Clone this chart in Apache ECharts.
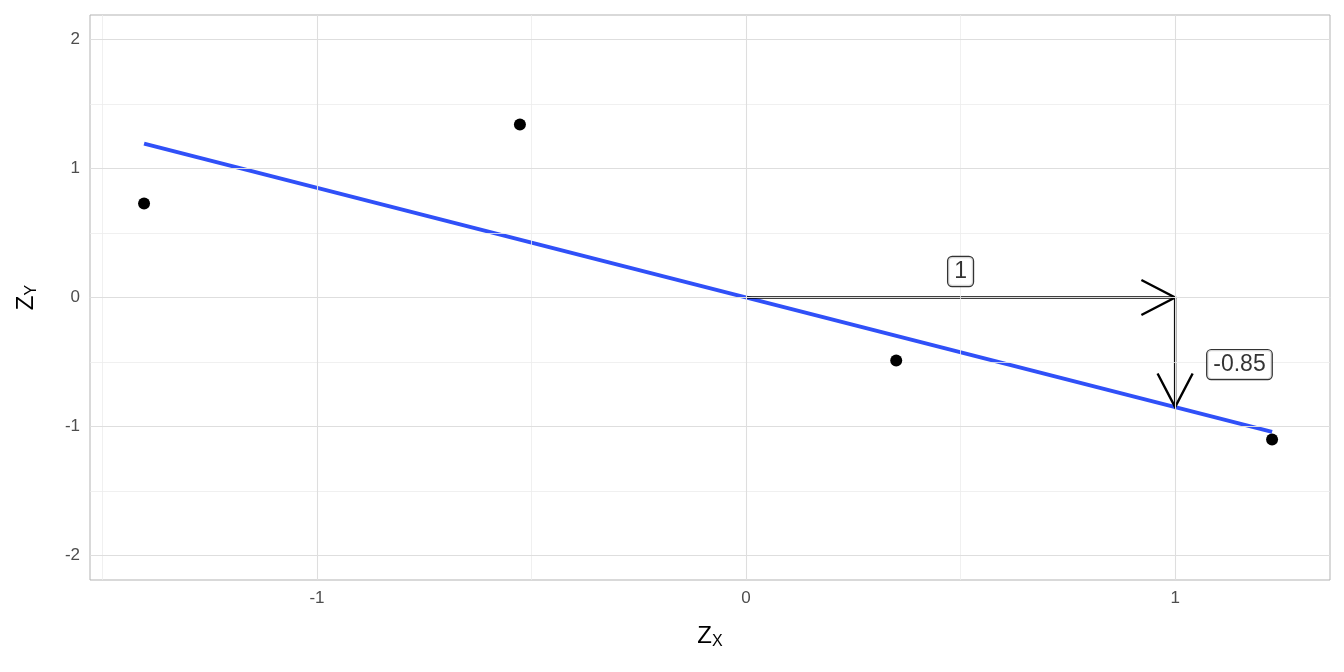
<!DOCTYPE html>
<html>
<head>
<meta charset="utf-8">
<script src="https://cdn.jsdelivr.net/npm/echarts@6/dist/echarts.min.js"></script>
<style>html,body{margin:0;padding:0;background:#fff}#chart{width:1344px;height:672px}</style>
</head>
<body>
<div id="chart"></div>
<script>
// observed points (Zx, Zy)
const points = [[-1.403, 0.729], [-0.527, 1.341], [0.350, -0.488], [1.226, -1.10]];
const slope = -0.85;
const fitX = [-1.403, 1.226];
// arrows: [x0, y0, x1, y1]
const arrows = [[0, 0, 1, 0], [1, 0, 1, -0.85]];
const arrowLabels = [[0.5, 0, '1'], [1.15, -0.52, '-0.85']];
const xMajor = [-1, 0, 1];
const xMinor = [-1.5, -0.5, 0.5];
const yMajor = [-2, -1, 0, 1, 2];
const yMinor = [-1.5, -0.5, 0.5, 1.5];

const chart = echarts.init(document.getElementById('chart'));

const minorStyle = { color: '#ececec', width: 0.8, type: 'solid' };
const majorStyle = { color: '#dedede', width: 1.1, type: 'solid' };
const gridLines = [].concat(
  xMinor.map(v => ({ xAxis: v, lineStyle: minorStyle })),
  yMinor.map(v => ({ yAxis: v, lineStyle: minorStyle })),
  xMajor.map(v => ({ xAxis: v, lineStyle: majorStyle })),
  yMajor.map(v => ({ yAxis: v, lineStyle: majorStyle }))
);

const tick = { show: true, length: 4, lineStyle: { color: '#b3b3b3' } };
const label = { color: '#4d4d4d', fontSize: 17, fontFamily: 'Liberation Sans', margin: 10 };
const nameRich = {
  a: { fontSize: 24, color: '#000', fontFamily: 'Liberation Sans' },
  b: { fontSize: 16, color: '#000', fontFamily: 'Liberation Sans', padding: [12, 0, 0, 0] }
};

function arrowItem(params, api) {
  const p0 = api.coord([api.value(0), api.value(1)]);
  const p1 = api.coord([api.value(2), api.value(3)]);
  const ang = Math.atan2(p1[1] - p0[1], p1[0] - p0[0]);
  const len = 38, spread = 0.48;
  const a1 = [p1[0] - len * Math.cos(ang - spread), p1[1] - len * Math.sin(ang - spread)];
  const a2 = [p1[0] - len * Math.cos(ang + spread), p1[1] - len * Math.sin(ang + spread)];
  const style = { stroke: '#000', lineWidth: 2.4, fill: null };
  return {
    type: 'group',
    children: [
      { type: 'line', shape: { x1: p0[0], y1: p0[1], x2: p1[0], y2: p1[1] }, style },
      { type: 'polyline', shape: { points: [a1, p1, a2] }, style }
    ]
  };
}

chart.setOption({
  animation: false,
  backgroundColor: '#fff',
  grid: { left: 90, right: 14, top: 15, bottom: 92, show: true, borderColor: '#b3b3b3', borderWidth: 1 },
  xAxis: {
    type: 'value', min: -1.529, max: 1.361,
    splitLine: { show: false }, axisLine: { show: false },
    axisTick: Object.assign({}, tick, { customValues: xMajor }),
    axisLabel: Object.assign({}, label, { customValues: xMajor }),
    name: '{a|Z}{b|X}', nameLocation: 'middle', nameGap: 42,
    nameTextStyle: { rich: nameRich }
  },
  yAxis: {
    type: 'value', min: -2.19, max: 2.19,
    splitLine: { show: false }, axisLine: { show: false },
    axisTick: Object.assign({}, tick, { customValues: yMajor }),
    axisLabel: Object.assign({}, label, { customValues: yMajor }),
    name: '{a|Z}{b|Y}', nameLocation: 'middle', nameGap: 50, nameRotate: 90,
    nameTextStyle: { rich: nameRich }
  },
  series: [
    {
      type: 'scatter', data: [], z: 0, silent: true,
      markLine: { silent: true, symbol: 'none', label: { show: false }, data: gridLines }
    },
    {
      type: 'line', data: fitX.map(x => [x, slope * x]), showSymbol: false, z: 3,
      lineStyle: { color: '#3050f8', width: 4 }
    },
    {
      type: 'custom', renderItem: arrowItem, data: arrows, z: 4
    },
    {
      type: 'scatter', data: points, symbolSize: 12, z: 5,
      itemStyle: { color: '#000', opacity: 1 }
    },
    {
      type: 'scatter',
      data: arrowLabels.map((d, i) => ({ value: [d[0], d[1]], name: d[2], label: i === 0 ? { offset: [0, -26] } : {} })),
      symbolSize: 0, z: 6,
      label: {
        show: true, formatter: p => p.name, position: 'inside',
        color: '#000', fontSize: 23, fontFamily: 'Liberation Sans',
        backgroundColor: '#fff', borderColor: '#000', borderWidth: 1.2, borderRadius: 4,
        padding: [4, 6, 2, 6]
      }
    }
  ]
});
</script>
</body>
</html>
